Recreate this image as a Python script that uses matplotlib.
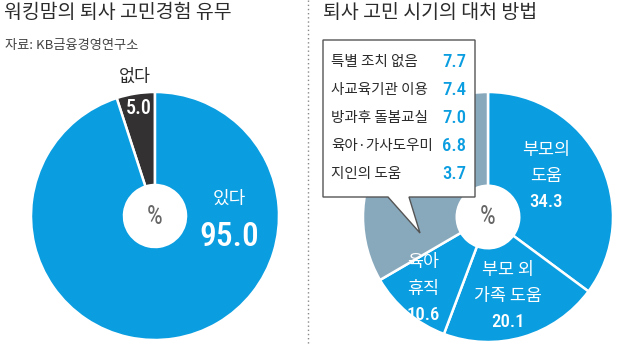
import matplotlib
matplotlib.use("Agg")
import matplotlib.pyplot as plt
from matplotlib.patches import Polygon

plt.rcParams['font.family'] = ['Noto Sans CJK KR', 'DejaVu Sans']

# ---- data ----
left_titles = ["없다", "있다"]
left_values = [5.0, 95.0]

right_main_labels = ["부모의\n도움", "부모 외\n가족 도움", "육아\n휴직", "기타"]
right_main_values = [34.3, 20.1, 10.6]
other_labels = ["특별 조치 없음", "사교육기관 이용", "방과후 돌봄교실", "육아·가사도우미", "지인의 도움"]
other_values = [7.7, 7.4, 7.0, 6.8, 3.7]

title_left = "워킹맘의 퇴사 고민경험 유무"
title_right = "퇴사 고민 시기의 대처 방법"
source = "자료: KB금융경영연구소"

BLUE = "#0a9de0"
DARK = "#333132"
GRAY = "#88a8bc"
TXT = "#2b2b2b"
NUM = ['Liberation Sans Narrow', 'Roboto Condensed', 'Roboto', 'DejaVu Sans']
KR = ['Noto Sans CJK KR', 'DejaVu Sans']

W, H = 620, 344
fig = plt.figure(figsize=(W / 100, H / 100), dpi=100)


def pie_axes(cx, cy, r):
    ax = fig.add_axes([(cx - r) / W, (H - cy - r) / H, 2 * r / W, 2 * r / H])
    ax.set_axis_off()
    return ax


def finish(ax):
    ax.set_xlim(-1, 1)
    ax.set_ylim(-1, 1)
    ax.set_aspect('equal')


hole = 0.75
wp = dict(width=hole, edgecolor='white', linewidth=1.8)

# ---- left donut ----
axL = pie_axes(155, 216, 124)
axL.pie(left_values, colors=[DARK, BLUE], startangle=90, counterclock=True,
        radius=1, wedgeprops=wp)
finish(axL)
axL.text(-0.165, 1.12, left_titles[0], ha='center', va='center', fontsize=12.5,
         color=TXT, family=KR)
axL.text(-0.13, 0.865, f"{left_values[0]:.1f}", ha='center', va='center', fontsize=14.5,
         color='white', family=NUM, fontweight='medium')
axL.text(0.60, 0.14, left_titles[1], ha='center', va='center', fontsize=13,
         color='white', family=KR)
axL.text(0.60, -0.17, f"{left_values[1]:.1f}", ha='center', va='center', fontsize=24,
         color='white', family=NUM, fontweight='medium')
axL.text(0, -0.01, "%", ha='center', va='center', fontsize=18, color='#666666',
         family=NUM)

# ---- right donut ----
other_total = round(sum(other_values), 1)
axR = pie_axes(488, 217, 125)
axR.pie(right_main_values + [other_total], colors=[BLUE, BLUE, BLUE, GRAY],
        startangle=90, counterclock=False, radius=1, wedgeprops=wp)
finish(axR)
label_pos = [(0.464, 0.54), (0.16, -0.42), (-0.52, -0.36)]
for (lx, ly), lab, val in zip(label_pos, right_main_labels, right_main_values):
    for i, line in enumerate(lab.split("\n")):
        axR.text(lx, ly - i * 0.215, line, ha='center', va='center', fontsize=12.5,
                 color='white', family=KR)
    axR.text(lx, ly - 0.42, f"{val:.1f}", ha='center', va='center', fontsize=13.5,
             color='white', family=NUM, fontweight='medium')
axR.text(0, 0, "%", ha='center', va='center', fontsize=18, color='#666666', family=NUM)

# ---- overlay: titles, separator, callout ----
ov = fig.add_axes([0, 0, 1, 1], zorder=5)
ov.set_xlim(0, W)
ov.set_ylim(H, 0)
ov.set_axis_off()
ov.patch.set_alpha(0)

ov.text(4, 12, title_left, ha='left', va='center', fontsize=14, color=TXT, family=KR)
ov.text(323, 12, title_right, ha='left', va='center', fontsize=14, color=TXT, family=KR)
ov.text(5, 46, source, ha='left', va='center', fontsize=9.5, color='#444444', family=KR)

ov.plot([308, 308], [0, H], color='#888888', lw=1, linestyle=(0, (1, 2)))

box = Polygon([(323, 40), (475, 40), (475, 197), (409, 197), (420, 233),
               (388, 197), (323, 197)], closed=True, facecolor='white',
              edgecolor='#555555', lw=1)
ov.add_patch(box)
for i, (lab, val) in enumerate(zip(other_labels, other_values)):
    y = 62 + i * 28
    ov.text(331, y, lab, ha='left', va='center', fontsize=10.5, color=TXT, family=KR)
    ov.text(466, y, f"{val:.1f}", ha='right', va='center', fontsize=13.5,
            color=BLUE, family=NUM, fontweight='medium')

fig.savefig("out.png", dpi=100)
